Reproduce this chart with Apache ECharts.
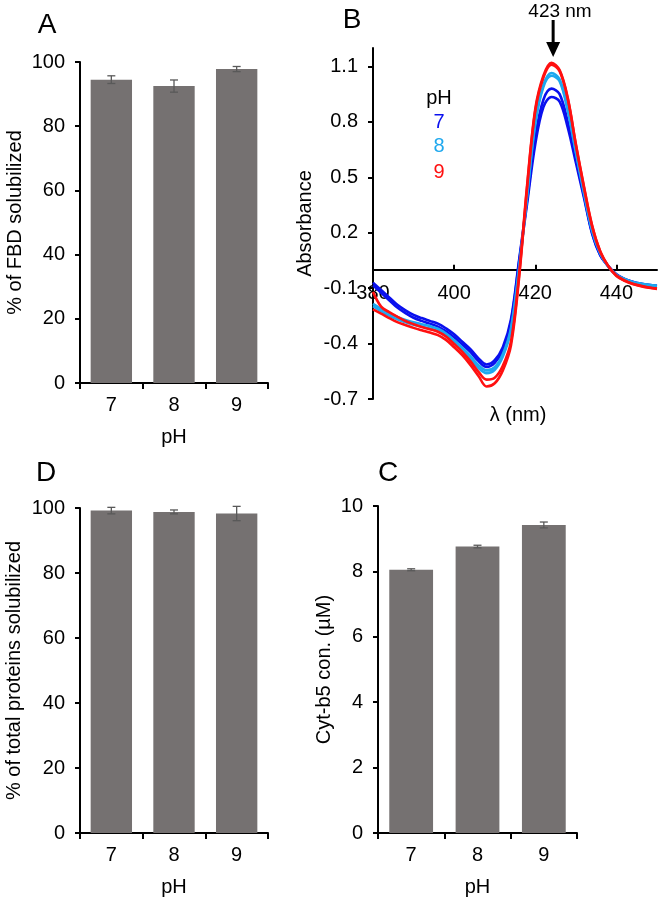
<!DOCTYPE html>
<html>
<head>
<meta charset="utf-8">
<script src="https://cdn.jsdelivr.net/npm/echarts@6/dist/echarts.min.js"></script>
<style>
html,body{margin:0;padding:0;background:#fff;}
#main{width:661px;height:900px;}
</style>
</head>
<body>
<div id="main"></div>
<script>
// ---------- DATA ----------
const phCategories = ['7', '8', '9'];

// Panel A: % of FBD solubilized
const fbdMean = [94.5, 92.5, 97.8];
const fbdErr  = [1.2, 1.9, 0.8];

// Panel D: % of total proteins solubilized
const totalMean = [99.2, 98.8, 98.3];
const totalErr  = [1.0, 0.6, 2.2];

// Panel C: Cyt-b5 concentration (µM)
const cytMean = [8.05, 8.76, 9.42];
const cytErr  = [0.03, 0.04, 0.09];

// Panel B: difference spectra
const wavelengths = [380,382,384,386,388,390,392,394,396,398,400,402,404,406,408,410,412,414,416,418,420,422,424,426,428,430,432,434,436,438,440,442,444,446,448,450];
const pH7a = [-0.07,-0.11,-0.15,-0.19,-0.22,-0.245,-0.262,-0.277,-0.292,-0.318,-0.35,-0.39,-0.43,-0.48,-0.513,-0.49,-0.42,-0.27,0.05,0.38,0.72,0.92,0.98,0.95,0.80,0.60,0.40,0.20,0.08,0.02,-0.025,-0.05,-0.065,-0.075,-0.082,-0.087];
const pH7b = [-0.085,-0.125,-0.165,-0.205,-0.235,-0.26,-0.277,-0.292,-0.308,-0.334,-0.366,-0.405,-0.445,-0.495,-0.527,-0.505,-0.435,-0.285,0.04,0.36,0.68,0.88,0.935,0.91,0.77,0.58,0.39,0.195,0.078,0.018,-0.027,-0.052,-0.067,-0.077,-0.084,-0.089];
const pH8a = [-0.185,-0.212,-0.236,-0.256,-0.272,-0.285,-0.295,-0.305,-0.32,-0.346,-0.382,-0.422,-0.467,-0.517,-0.545,-0.528,-0.458,-0.318,0.01,0.41,0.80,1.00,1.065,1.03,0.87,0.64,0.42,0.215,0.09,0.018,-0.028,-0.05,-0.066,-0.075,-0.082,-0.087];
const pH8b = [-0.198,-0.225,-0.249,-0.269,-0.285,-0.298,-0.308,-0.318,-0.333,-0.36,-0.396,-0.437,-0.482,-0.532,-0.56,-0.542,-0.47,-0.328,0.0,0.40,0.79,0.99,1.05,1.02,0.86,0.635,0.415,0.212,0.088,0.016,-0.03,-0.053,-0.068,-0.077,-0.084,-0.089];
const pH9a = [-0.12,-0.2,-0.23,-0.255,-0.278,-0.295,-0.31,-0.322,-0.336,-0.362,-0.402,-0.445,-0.495,-0.553,-0.595,-0.585,-0.52,-0.39,-0.03,0.46,0.87,1.05,1.12,1.08,0.93,0.68,0.45,0.24,0.10,0.02,-0.032,-0.058,-0.076,-0.087,-0.096,-0.102];
const pH9b = [-0.215,-0.238,-0.262,-0.284,-0.3,-0.315,-0.328,-0.34,-0.354,-0.38,-0.42,-0.463,-0.515,-0.575,-0.632,-0.615,-0.545,-0.41,-0.045,0.45,0.86,1.04,1.11,1.075,0.925,0.675,0.445,0.236,0.098,0.018,-0.034,-0.06,-0.078,-0.089,-0.098,-0.104];

const spectrumYTicks = [-0.7, -0.4, -0.1, 0.2, 0.5, 0.8, 1.1];
const spectrumXTicks = [380, 400, 420, 440];
const peakWavelength = 424.4;

// ---------- STYLE ----------
const FONT = '"Liberation Sans", Arial, sans-serif';
const BAR_COLOR = '#757171';
const ERR_COLOR = '#595959';
const C7 = '#0a10ee', C8 = '#1ea8ee', C9 = '#ff1010';

const chart = echarts.init(document.getElementById('main'), null, {renderer: 'canvas'});

function zip(xs, ys) { return xs.map((x, i) => [x, ys[i]]); }
function errData(mean, err) { return mean.map((m, i) => [i, m - err[i], m + err[i]]); }

function renderErr(params, api) {
  const x = api.value(0);
  const lo = api.coord([x, api.value(1)]);
  const hi = api.coord([x, api.value(2)]);
  const w = 4;
  const st = {stroke: ERR_COLOR, lineWidth: 1.3};
  return {type: 'group', children: [
    {type: 'line', shape: {x1: lo[0], y1: lo[1], x2: hi[0], y2: hi[1]}, style: st},
    {type: 'line', shape: {x1: lo[0] - w, y1: lo[1], x2: lo[0] + w, y2: lo[1]}, style: st},
    {type: 'line', shape: {x1: hi[0] - w, y1: hi[1], x2: hi[0] + w, y2: hi[1]}, style: st}
  ]};
}

const axisLine = {show: true, onZero: false, lineStyle: {color: '#000', width: 2}};
const axisLabel = {color: '#000', fontSize: 20, fontFamily: FONT};
const nameText = {color: '#000', fontSize: 20, fontFamily: FONT};

function catAxis(gi) {
  return {
    type: 'category', gridIndex: gi, data: phCategories,
    axisLine: axisLine,
    axisTick: {show: true, length: 6, lineStyle: {color: '#000', width: 2}},
    axisLabel: Object.assign({margin: 12}, axisLabel),
    name: 'pH', nameLocation: 'middle', nameGap: 44, nameTextStyle: nameText
  };
}
function valAxis(gi, min, max, interval, name, gap) {
  return {
    type: 'value', gridIndex: gi, min: min, max: max, interval: interval,
    axisLine: axisLine,
    axisTick: {show: true, length: 5, lineStyle: {color: '#000', width: 2}},
    axisLabel: Object.assign({margin: 15}, axisLabel),
    splitLine: {show: false},
    name: name, nameLocation: 'middle', nameGap: gap, nameTextStyle: nameText
  };
}

function lineSeries(name, ys, color) {
  return {
    type: 'line', name: name, xAxisIndex: 1, yAxisIndex: 1,
    data: zip(wavelengths, ys), showSymbol: false, smooth: 0.35,
    lineStyle: {color: color, width: 2.6}, itemStyle: {color: color},
    silent: true
  };
}

const letters = [
  {id: 'lA', text: 'A', x: 47, y: 25},
  {id: 'lB', text: 'B', x: 352, y: 20},
  {id: 'lD', text: 'D', x: 46, y: 473},
  {id: 'lC', text: 'C', x: 388, y: 473}
];

const graphics = letters.map(l => ({
  type: 'text', id: l.id, x: l.x, y: l.y,
  style: {text: l.text, font: '28px ' + FONT, fill: '#000', align: 'center', verticalAlign: 'middle'}
})).concat([
  {type: 'text', id: 'legT', x: 439, y: 98, style: {text: 'pH', font: '20px ' + FONT, fill: '#000', align: 'center', verticalAlign: 'middle'}},
  {type: 'text', id: 'leg7', x: 439, y: 122, style: {text: '7', font: '20px ' + FONT, fill: C7, align: 'center', verticalAlign: 'middle'}},
  {type: 'text', id: 'leg8', x: 439, y: 146, style: {text: '8', font: '20px ' + FONT, fill: C8, align: 'center', verticalAlign: 'middle'}},
  {type: 'text', id: 'leg9', x: 439, y: 172, style: {text: '9', font: '20px ' + FONT, fill: C9, align: 'center', verticalAlign: 'middle'}},
  {type: 'text', id: 'lam', x: 518, y: 415, style: {text: 'λ (nm)', font: '20px ' + FONT, fill: '#000', align: 'center', verticalAlign: 'middle'}},
  {type: 'text', id: 'nm423', x: 560, y: 12, style: {text: '423 nm', font: '19px ' + FONT, fill: '#000', align: 'center', verticalAlign: 'middle'}}
]);

const gridBase = {containLabel: false, outerBoundsMode: 'none'};

const option = {
  backgroundColor: '#fff',
  animation: false,
  grid: [
    Object.assign({left: 80, top: 62, width: 188, height: 321}, gridBase),
    Object.assign({left: 373, top: 48, width: 284, height: 351}, gridBase),
    Object.assign({left: 80, top: 508, width: 188, height: 325}, gridBase),
    Object.assign({left: 378, top: 506, width: 199, height: 327}, gridBase)
  ],
  xAxis: [
    catAxis(0),
    {
      type: 'value', gridIndex: 1, min: 380, max: 450, interval: 20,
      position: 'bottom', offset: 0,
      axisLine: {show: true, onZero: false, lineStyle: {color: '#000', width: 2}},
      axisTick: {show: true, inside: true, length: 5, customValues: spectrumXTicks, lineStyle: {color: '#000', width: 2}},
      axisLabel: Object.assign({margin: 14, customValues: spectrumXTicks, hideOverlap: false}, axisLabel),
      splitLine: {show: false}
    },
    catAxis(2),
    catAxis(3)
  ],
  yAxis: [
    valAxis(0, 0, 100, 20, '% of FBD solubilized', 55),
    {
      type: 'value', gridIndex: 1, min: -0.7, max: 1.2,
      axisLine: axisLine,
      axisTick: {show: true, length: 5, customValues: spectrumYTicks, lineStyle: {color: '#000', width: 2}},
      axisLabel: Object.assign({margin: 15, customValues: spectrumYTicks, hideOverlap: false, formatter: v => v.toFixed(1)}, axisLabel),
      splitLine: {show: false},
      name: 'Absorbance', nameLocation: 'middle', nameGap: 58, nameTextStyle: nameText
    },
    valAxis(2, 0, 100, 20, '% of total proteins solubilized', 56),
    valAxis(3, 0, 10, 2, 'Cyt-b5 con. (µM)', 44)
  ],
  series: [
    {type: 'bar', xAxisIndex: 0, yAxisIndex: 0, data: fbdMean, barCategoryGap: '34%', itemStyle: {color: BAR_COLOR}, silent: true},
    {type: 'custom', xAxisIndex: 0, yAxisIndex: 0, data: errData(fbdMean, fbdErr), renderItem: renderErr, encode: {x: 0, y: [1, 2]}, z: 5, silent: true},
    lineSeries('pH 7 a', pH7a, C7),
    lineSeries('pH 7 b', pH7b, C7),
    lineSeries('pH 8 a', pH8a, C8),
    lineSeries('pH 8 b', pH8b, C8),
    lineSeries('pH 9 a', pH9a, C9),
    lineSeries('pH 9 b', pH9b, C9),
    {type: 'bar', xAxisIndex: 2, yAxisIndex: 2, data: totalMean, barCategoryGap: '34%', itemStyle: {color: BAR_COLOR}, silent: true},
    {type: 'custom', xAxisIndex: 2, yAxisIndex: 2, data: errData(totalMean, totalErr), renderItem: renderErr, encode: {x: 0, y: [1, 2]}, z: 5, silent: true},
    {type: 'bar', xAxisIndex: 3, yAxisIndex: 3, data: cytMean, barCategoryGap: '34%', itemStyle: {color: BAR_COLOR}, silent: true},
    {type: 'custom', xAxisIndex: 3, yAxisIndex: 3, data: errData(cytMean, cytErr), renderItem: renderErr, encode: {x: 0, y: [1, 2]}, z: 5, silent: true}
  ],
  graphic: {elements: graphics}
};

chart.setOption(option);

// Move the wavelength axis up to the zero-absorbance line (through the axis scale)
const zeroY = chart.convertToPixel({yAxisIndex: 1}, 0);
const bottomY = chart.convertToPixel({yAxisIndex: 1}, -0.7);
// Arrow pointing to the Soret peak, positioned through the spectrum axes
const tipX = chart.convertToPixel({xAxisIndex: 1}, peakWavelength);

chart.setOption({
  xAxis: [{}, {offset: zeroY - bottomY}, {}, {}],
  graphic: {elements: graphics.concat([
    {type: 'line', id: 'arrowShaft', shape: {x1: tipX, y1: 20, x2: tipX, y2: 44}, style: {stroke: '#000', lineWidth: 3}},
    {type: 'polygon', id: 'arrowHead', shape: {points: [[tipX - 7, 42], [tipX + 7, 42], [tipX, 57]]}, style: {fill: '#000'}}
  ])}
});
</script>
</body>
</html>
